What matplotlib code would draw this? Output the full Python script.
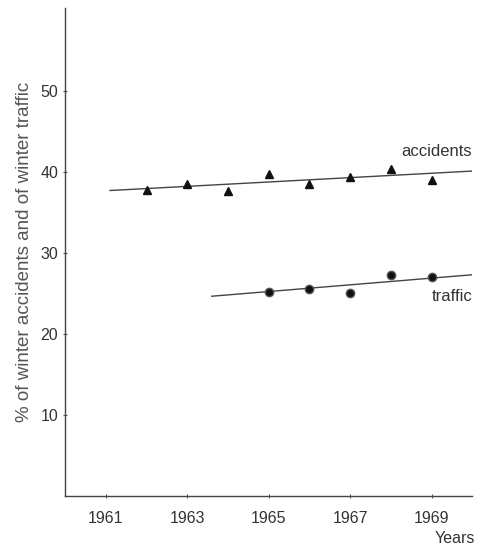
import matplotlib.pyplot as plt
import numpy as np

plt.rcParams['font.family'] = ['Liberation Sans', 'DejaVu Sans']

# values
acc_years = [1962, 1963, 1964, 1965, 1966, 1967, 1968, 1969]
acc_pct = [37.8, 38.5, 37.6, 39.7, 38.5, 39.4, 40.4, 39.0]
acc_trend_x = [1961.1, 1970]
acc_trend_y = [37.7, 40.1]

traf_years = [1965, 1966, 1967, 1968, 1969]
traf_pct = [25.2, 25.6, 25.1, 27.3, 27.0]
traf_trend_x = [1963.6, 1970]
traf_trend_y = [24.65, 27.3]

xticks = [1961, 1963, 1965, 1967, 1969]
yticks = [10, 20, 30, 40, 50]

fig = plt.figure(figsize=(4.79, 5.48), dpi=100)
ax = fig.add_axes([0.136, 0.095, 0.85, 0.89])

ax.plot(acc_trend_x, acc_trend_y, color='#444444', lw=1.0)
ax.plot(acc_years, acc_pct, linestyle='none', marker='^', ms=5.5, color='#111111')
ax.plot(traf_trend_x, traf_trend_y, color='#444444', lw=1.0)
ax.plot(traf_years, traf_pct, linestyle='none', marker='o', ms=6,
        color='#111111', markeredgecolor='#555555')

ax.text(1970, 42.5, 'accidents', ha='right', va='center', fontsize=12, color='#333333')
ax.text(1970, 24.6, 'traffic', ha='right', va='center', fontsize=12, color='#333333')

ax.set_xlim(1960, 1970)
ax.set_ylim(0, 60.2)
ax.set_xticks(xticks)
ax.set_yticks(yticks)
ax.tick_params(direction='inout', length=3, width=0.8, labelsize=11.5,
               labelcolor='#333333', color='#555555')
ax.tick_params(axis='x', pad=9)
for s in ['top', 'right']:
    ax.spines[s].set_visible(False)
for s in ['left', 'bottom']:
    ax.spines[s].set_color('#444444')
    ax.spines[s].set_linewidth(1.0)

ax.set_ylabel('% of winter accidents and of winter traffic', fontsize=13.5,
              color='#555555', labelpad=5)
fig.text(0.992, 0.004, 'Years', ha='right', va='bottom', fontsize=11.5, color='#333333')

plt.savefig('out.png', dpi=100)
